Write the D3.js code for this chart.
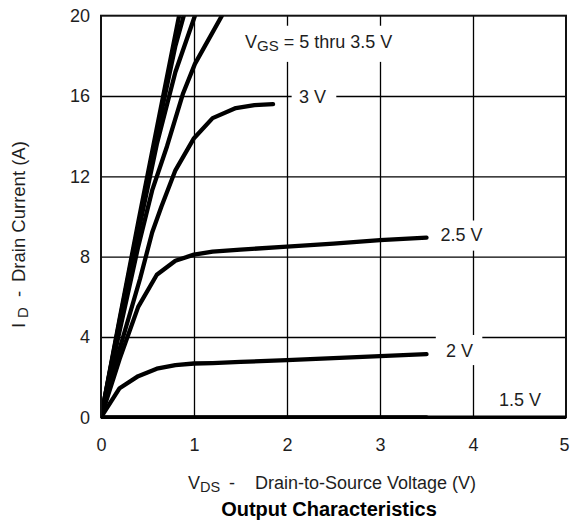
<!DOCTYPE html>
<html>
<head>
<meta charset="utf-8">
<script src="https://cdn.jsdelivr.net/npm/d3@7/dist/d3.min.js"></script>
<style>
	body { margin: 0; background: #fff; }
	svg text { font-family: "Liberation Sans", Arial, Helvetica, sans-serif; fill: #1e1e1e; white-space: pre; }
</style>
</head>
<body>
<div id="chart"></div>
<script>
/* output characteristics: drain current vs drain-source voltage
 * one curve per gate voltage
 */

// axis ticks
var xTicks = [0, 1, 2, 3, 4, 5];
var yTicks = [0, 4, 8, 12, 16, 20];

// curves (V_DS in volts, I_D in amps)
var vds_5v   = [0, 0.2, 0.4, 0.6, 0.84];
var id_5v    = [0, 4.9, 9.7, 14.4, 20];

var vds_4v5  = [0, 0.2, 0.4, 0.6, 0.8, 0.89];
var id_4v5   = [0, 4.8, 9.5, 14.1, 18.5, 20];

var vds_4v   = [0, 0.2, 0.4, 0.6, 0.8, 1.01];
var id_4v    = [0, 4.7, 9.2, 13.6, 17.2, 20];

var vds_3v5  = [0, 0.2, 0.4, 0.55, 0.71, 0.88, 1.01, 1.3];
var id_3v5   = [0, 4.3, 8.5, 11.3, 13.5, 16.1, 17.6, 20];

var vds_3v   = [0, 0.2, 0.42, 0.55, 0.65, 0.8, 1.0, 1.2, 1.45, 1.65, 1.85];
var id_3v    = [0, 3.4, 6.9, 9.2, 10.5, 12.3, 13.9, 14.9, 15.4, 15.55, 15.6];

var vds_2v5  = [0, 0.2, 0.4, 0.6, 0.8, 1.0, 1.2, 1.5, 2.0, 2.5, 3.0, 3.5];
var id_2v5   = [0, 2.9, 5.5, 7.1, 7.8, 8.1, 8.25, 8.35, 8.5, 8.65, 8.82, 8.95];

var vds_2v   = [0, 0.2, 0.4, 0.6, 0.8, 1.0, 1.2, 1.5, 2.0, 2.5, 3.0, 3.5];
var id_2v    = [0, 1.45, 2.05, 2.42, 2.6, 2.68, 2.7, 2.76, 2.85, 2.95, 3.05, 3.15];

var vds_1v5  = [0, 3.5];
var id_1v5   = [0, 0];

// pair up x and y arrays into points
function zipCurve( vds , id ){
	return vds.map( (v , i) => [ v , id[i] ] );
}

//~~~~~~~~~~~~~~~~~~~~~~~~~~~~~~~~~~~~~~~~~~~~~~~~~~~~~~~~~~~~~~~~~~~~~~
function main(){

	var width = 570,
		height = 527;

	var svg = d3.select("#chart").append("svg")
		.attr("width" , width)
		.attr("height" , height);

	var x = d3.scaleLinear().domain([0, 5]).range([101, 566]);
	var y = d3.scaleLinear().domain([0, 20]).range([417.3, 15.7]);

	var plotH = y(0) - y(20);

	// clip so the steep curves stop at the top edge
	svg.append("clipPath").attr("id" , "plot_clip")
		.append("rect")
		.attr("x" , x(0))
		.attr("y" , y(20))
		.attr("width" , x(5) - x(0))
		.attr("height" , plotH);

	// grid lines
	var xGrid = svg.append("g")
		.attr("transform" , "translate(0," + y(0) + ")")
		.call( d3.axisBottom(x).tickValues([1, 2, 3, 4]).tickSize(-plotH).tickFormat("") );
	var yGrid = svg.append("g")
		.attr("transform" , "translate(" + x(0) + ",0)")
		.call( d3.axisLeft(y).tickValues([4, 8, 12, 16]).tickSize(-(x(5) - x(0))).tickFormat("") );
	[xGrid, yGrid].forEach( function(g){
		g.select(".domain").remove();
		g.selectAll("line").attr("stroke" , "#000").attr("stroke-width" , 1.3);
	});

	// white patches behind the labels that sit on the grid
	var patches = [
		{ x0: 1.47, x1: 3.22, y0: 19.5, y1: 17.7 },   // V_GS note
		{ x0: 2.05, x1: 2.53, y0: 16.5, y1: 15.5 },   // 3 V
		{ x0: 3.6, x1: 4.18, y0: 9.8, y1: 8.3 },      // 2.5 V
		{ x0: 3.6, x1: 4.1, y0: 4.1, y1: 2.6 }        // 2 V
	];
	svg.selectAll(".patch")
		.data( patches ).enter()
		.append("rect")
		.attr("class" , "patch")
		.attr("x" , d => x(d.x0))
		.attr("y" , d => y(d.y0))
		.attr("width" , d => x(d.x1) - x(d.x0))
		.attr("height" , d => y(d.y1) - y(d.y0))
		.attr("fill" , "#fff");

	// curves
	var curves = [
		zipCurve( vds_1v5 , id_1v5 ),
		zipCurve( vds_2v , id_2v ),
		zipCurve( vds_2v5 , id_2v5 ),
		zipCurve( vds_3v , id_3v ),
		zipCurve( vds_3v5 , id_3v5 ),
		zipCurve( vds_4v , id_4v ),
		zipCurve( vds_4v5 , id_4v5 ),
		zipCurve( vds_5v , id_5v )
	];

	var line = d3.line()
		.x( d => x(d[0]) )
		.y( d => y(d[1]) );

	svg.append("g")
		.attr("clip-path" , "url(#plot_clip)")
		.selectAll(".curve")
		.data( curves ).enter()
		.append("path")
		.attr("class" , "curve")
		.attr("d" , line)
		.attr("fill" , "none")
		.attr("stroke" , "#000")
		.attr("stroke-width" , 4.3)
		.attr("stroke-linejoin" , "round")
		.attr("stroke-linecap" , "round");

	// frame
	svg.append("rect")
		.attr("x" , x(0))
		.attr("y" , y(20))
		.attr("width" , x(5) - x(0))
		.attr("height" , plotH)
		.attr("fill" , "none")
		.attr("stroke" , "#111")
		.attr("stroke-width" , 2);
	svg.append("line")
		.attr("x1" , x(0))
		.attr("x2" , x(5))
		.attr("y1" , y(0))
		.attr("y2" , y(0))
		.attr("stroke" , "#000")
		.attr("stroke-width" , 3.5);

	// tick labels
	var xAxis = svg.append("g")
		.attr("transform" , "translate(0," + y(0) + ")")
		.call( d3.axisBottom(x).tickValues(xTicks).tickFormat(d3.format("d")).tickSize(0).tickPadding(21) );
	var yAxis = svg.append("g")
		.attr("transform" , "translate(" + x(0) + ",0)")
		.call( d3.axisLeft(y).tickValues(yTicks).tickFormat(d3.format("d")).tickSize(0).tickPadding(11) );
	[xAxis, yAxis].forEach( function(g){
		g.select(".domain").remove();
		g.selectAll("text")
			.attr("font-size" , 18)
			.attr("font-family" , null)
			.attr("fill" , "#1e1e1e");
	});
	// keep the last x label inside the window
	xAxis.selectAll(".tick").filter( d => d === 5 ).select("text").attr("dx" , -2);

	// curve labels
	var note = svg.append("text")
		.attr("x" , 245)
		.attr("y" , 47.5)
		.attr("font-size" , 18);
	note.append("tspan").text("V");
	note.append("tspan").attr("font-size" , 15).attr("dy" , 3).text("GS");
	note.append("tspan").attr("dy" , -3).text(" = 5 thru 3.5 V");

	var labels = [
		{ t: "3 V",   x: 2.13, y: 15.66 },
		{ t: "2.5 V", x: 3.65, y: 8.77 },
		{ t: "2 V",   x: 3.71, y: 3.0 },
		{ t: "1.5 V", x: 4.28, y: 0.56 }
	];
	svg.selectAll(".vlabel")
		.data( labels ).enter()
		.append("text")
		.attr("class" , "vlabel")
		.attr("x" , d => x(d.x))
		.attr("y" , d => y(d.y))
		.attr("font-size" , 18)
		.text( d => d.t );

	// axis titles
	var xt = svg.append("text")
		.attr("x" , 188)
		.attr("y" , 489)
		.attr("font-size" , 18);
	xt.append("tspan").text("V");
	xt.append("tspan").attr("font-size" , 14.5).attr("dy" , 3).text("DS");
	xt.append("tspan").attr("dy" , -3).attr("x" , 229).text("-");
	xt.append("tspan").attr("x" , 255).text("Drain-to-Source Voltage (V)");

	var yt = svg.append("text")
		.attr("transform" , "translate(25,328) rotate(-90)")
		.attr("font-size" , 18.5);
	yt.append("tspan").attr("x" , 0).text("I");
	yt.append("tspan").attr("x" , 10).attr("dy" , 3).attr("font-size" , 15).text("D");
	yt.append("tspan").attr("x" , 31).attr("dy" , -3).text("-");
	yt.append("tspan").attr("x" , 46).text("Drain Current (A)");

	svg.append("text")
		.attr("x" , 329)
		.attr("y" , 516)
		.attr("text-anchor" , "middle")
		.attr("font-size" , 20)
		.attr("font-weight" , "bold")
		.style("fill" , "#000")
		.text("Output Characteristics");
}

main();
</script>
</body>
</html>
